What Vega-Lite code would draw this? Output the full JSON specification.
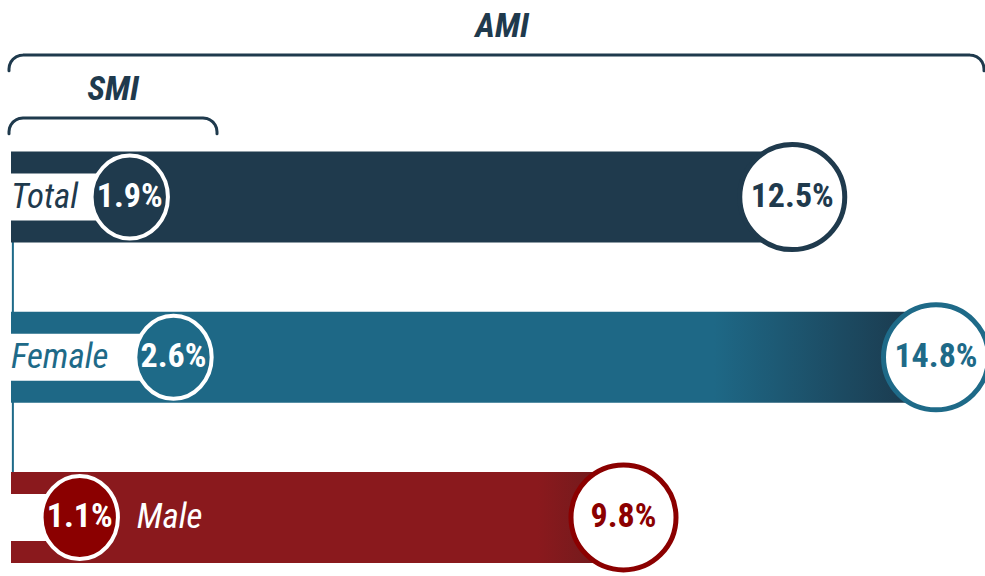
{
  "$schema": "https://vega.github.io/schema/vega-lite/v6.json",
  "width": 985,
  "height": 576,
  "padding": 0,
  "autosize": {"type": "none"},
  "background": "white",
  "config": {"view": {"stroke": null}, "axis": {"disable": true}, "legend": {"disable": true}},
  "datasets": {
    "rates": [
      {"group": "Total", "pos": 1, "AMI": 12.5, "SMI": 1.9},
      {"group": "Female", "pos": 2, "AMI": 14.8, "SMI": 2.6},
      {"group": "Male", "pos": 3, "AMI": 9.8, "SMI": 1.1}
    ],
    "brackets": [
      {"bracket": "AMI", "i": 0, "bx": -0.032, "by": 0.2117},
      {"bracket": "AMI", "i": 1, "bx": -0.032, "by": 0.19939},
      {"bracket": "AMI", "i": 2, "bx": -0.0243, "by": 0.17718},
      {"bracket": "AMI", "i": 3, "bx": -0.0019, "by": 0.15644},
      {"bracket": "AMI", "i": 4, "bx": 0.0336, "by": 0.13865},
      {"bracket": "AMI", "i": 5, "bx": 0.08, "by": 0.12503},
      {"bracket": "AMI", "i": 6, "bx": 0.1341, "by": 0.11644},
      {"bracket": "AMI", "i": 7, "bx": 0.192, "by": 0.1135},
      {"bracket": "AMI", "i": 8, "bx": 15.344, "by": 0.1135},
      {"bracket": "AMI", "i": 9, "bx": 15.4019, "by": 0.11644},
      {"bracket": "AMI", "i": 10, "bx": 15.456, "by": 0.12503},
      {"bracket": "AMI", "i": 11, "bx": 15.5024, "by": 0.13865},
      {"bracket": "AMI", "i": 12, "bx": 15.5379, "by": 0.15644},
      {"bracket": "AMI", "i": 13, "bx": 15.5603, "by": 0.17718},
      {"bracket": "AMI", "i": 14, "bx": 15.568, "by": 0.19939},
      {"bracket": "AMI", "i": 15, "bx": 15.568, "by": 0.2117},
      {"bracket": "SMI", "i": 0, "bx": -0.032, "by": 0.60429},
      {"bracket": "SMI", "i": 1, "bx": -0.032, "by": 0.59202},
      {"bracket": "SMI", "i": 2, "bx": -0.0243, "by": 0.56982},
      {"bracket": "SMI", "i": 3, "bx": -0.0019, "by": 0.54908},
      {"bracket": "SMI", "i": 4, "bx": 0.0336, "by": 0.53129},
      {"bracket": "SMI", "i": 5, "bx": 0.08, "by": 0.51767},
      {"bracket": "SMI", "i": 6, "bx": 0.1341, "by": 0.50908},
      {"bracket": "SMI", "i": 7, "bx": 0.192, "by": 0.50613},
      {"bracket": "SMI", "i": 8, "bx": 3.072, "by": 0.50613},
      {"bracket": "SMI", "i": 9, "bx": 3.1299, "by": 0.50908},
      {"bracket": "SMI", "i": 10, "bx": 3.184, "by": 0.51767},
      {"bracket": "SMI", "i": 11, "bx": 3.2304, "by": 0.53129},
      {"bracket": "SMI", "i": 12, "bx": 3.2659, "by": 0.54908},
      {"bracket": "SMI", "i": 13, "bx": 3.2883, "by": 0.56982},
      {"bracket": "SMI", "i": 14, "bx": 3.296, "by": 0.59202},
      {"bracket": "SMI", "i": 15, "bx": 3.296, "by": 0.60429}
    ],
    "headers": [
      {"label": "AMI", "hx": 7.856, "hy": -0.0644},
      {"label": "SMI", "hx": 1.632, "hy": 0.334}
    ]
  },
  "data": {"name": "rates"},
  "transform": [
    {"calculate": "format(datum.AMI, '.1f') + '%'", "as": "amiLabel"},
    {"calculate": "format(datum.SMI, '.1f') + '%'", "as": "smiLabel"}
  ],
  "layer": [
    {
      "mark": {"type": "rule", "color": "#1e6a88", "strokeWidth": 2},
      "encoding": {
        "x": {"datum": 0.03, "type": "quantitative", "scale": {"domain": [-0.176, 15.584], "nice": false, "zero": false}},
        "y": {"aggregate": "min", "field": "pos", "type": "quantitative", "scale": {"domain": [-0.1994, 3.3344], "reverse": true, "nice": false, "zero": false}},
        "y2": {"aggregate": "max", "field": "pos"}
      }
    },
    {
      "transform": [{"filter": "datum.group == 'Total'"}],
      "mark": {"type": "bar", "orient": "horizontal", "size": 91, "color": "#1f3a4d"},
      "encoding": {
        "x": {"field": "AMI", "type": "quantitative", "scale": {"domain": [-0.176, 15.584], "nice": false, "zero": false}},
        "x2": {"datum": 0},
        "y": {"field": "pos", "type": "quantitative", "scale": {"domain": [-0.1994, 3.3344], "reverse": true, "nice": false, "zero": false}}
      }
    },
    {
      "transform": [{"filter": "datum.group == 'Female'"}],
      "mark": {"type": "bar", "orient": "horizontal", "size": 91,
        "color": {"gradient": "linear", "x1": 0, "x2": 1, "y1": 0, "y2": 0,
          "stops": [{"offset": 0, "color": "#1e6886"}, {"offset": 0.76, "color": "#1e6886"}, {"offset": 0.97, "color": "#1b3b4f"}, {"offset": 1, "color": "#1b3b4f"}]}},
      "encoding": {
        "x": {"field": "AMI", "type": "quantitative", "scale": {"domain": [-0.176, 15.584], "nice": false, "zero": false}},
        "x2": {"datum": 0},
        "y": {"field": "pos", "type": "quantitative", "scale": {"domain": [-0.1994, 3.3344], "reverse": true, "nice": false, "zero": false}}
      }
    },
    {
      "transform": [{"filter": "datum.group == 'Male'"}],
      "mark": {"type": "bar", "orient": "horizontal", "size": 91,
        "color": {"gradient": "linear", "x1": 0, "x2": 1, "y1": 0, "y2": 0,
          "stops": [{"offset": 0, "color": "#8a191d"}, {"offset": 0.86, "color": "#8a191d"}, {"offset": 1, "color": "#681b1c"}]}},
      "encoding": {
        "x": {"field": "AMI", "type": "quantitative", "scale": {"domain": [-0.176, 15.584], "nice": false, "zero": false}},
        "x2": {"datum": 0},
        "y": {"field": "pos", "type": "quantitative", "scale": {"domain": [-0.1994, 3.3344], "reverse": true, "nice": false, "zero": false}}
      }
    },
    {
      "mark": {"type": "bar", "orient": "horizontal", "size": 47, "color": "white"},
      "encoding": {
        "x": {"field": "SMI", "type": "quantitative", "scale": {"domain": [-0.176, 15.584], "nice": false, "zero": false}},
        "x2": {"datum": 0},
        "y": {"field": "pos", "type": "quantitative", "scale": {"domain": [-0.1994, 3.3344], "reverse": true, "nice": false, "zero": false}}
      }
    },
    {
      "transform": [{"filter": "datum.group != 'Male'"}],
      "mark": {"type": "text", "align": "left", "baseline": "middle", "dx": 0, "fontSize": 35, "fontStyle": "italic", "font": "Roboto Condensed, Liberation Sans Narrow, Arial Narrow, DejaVu Sans Condensed, sans-serif"},
      "encoding": {
        "x": {"datum": 0, "type": "quantitative", "scale": {"domain": [-0.176, 15.584], "nice": false, "zero": false}},
        "y": {"field": "pos", "type": "quantitative", "scale": {"domain": [-0.1994, 3.3344], "reverse": true, "nice": false, "zero": false}},
        "text": {"field": "group"},
        "color": {"field": "group", "type": "nominal", "scale": {"domain": ["Total", "Female", "Male"], "range": ["#1f3a4d", "#1e6a88", "#8b0000"]}}
      }
    },
    {
      "mark": {"type": "point", "filled": true, "opacity": 1, "shape": "M -0.92 0 A 0.92 1 0 1 0 0.92 0 A 0.92 1 0 1 0 -0.92 0 Z", "size": 6889, "stroke": "white", "strokeWidth": 4, "strokeOpacity": 1},
      "encoding": {
        "x": {"field": "SMI", "type": "quantitative", "scale": {"domain": [-0.176, 15.584], "nice": false, "zero": false}},
        "y": {"field": "pos", "type": "quantitative", "scale": {"domain": [-0.1994, 3.3344], "reverse": true, "nice": false, "zero": false}},
        "color": {"field": "group", "type": "nominal", "scale": {"domain": ["Total", "Female", "Male"], "range": ["#1f3a4d", "#1e6a88", "#8b0000"]}}
      }
    },
    {
      "mark": {"type": "text", "align": "center", "baseline": "middle", "fontSize": 34, "fontWeight": "bold", "color": "white", "font": "Roboto Condensed, Liberation Sans Narrow, Arial Narrow, DejaVu Sans Condensed, sans-serif"},
      "encoding": {
        "x": {"field": "SMI", "type": "quantitative", "scale": {"domain": [-0.176, 15.584], "nice": false, "zero": false}},
        "y": {"field": "pos", "type": "quantitative", "scale": {"domain": [-0.1994, 3.3344], "reverse": true, "nice": false, "zero": false}},
        "text": {"field": "smiLabel"}
      }
    },
    {
      "transform": [{"filter": "datum.group == 'Male'"}],
      "mark": {"type": "text", "align": "left", "baseline": "middle", "dx": 57, "fontSize": 35, "fontStyle": "italic", "color": "white", "font": "Roboto Condensed, Liberation Sans Narrow, Arial Narrow, DejaVu Sans Condensed, sans-serif"},
      "encoding": {
        "x": {"field": "SMI", "type": "quantitative", "scale": {"domain": [-0.176, 15.584], "nice": false, "zero": false}},
        "y": {"field": "pos", "type": "quantitative", "scale": {"domain": [-0.1994, 3.3344], "reverse": true, "nice": false, "zero": false}},
        "text": {"field": "group"}
      }
    },
    {
      "mark": {"type": "point", "filled": true, "opacity": 1, "shape": "circle", "size": 11025, "fill": "white", "strokeWidth": 5, "strokeOpacity": 1},
      "encoding": {
        "x": {"field": "AMI", "type": "quantitative", "scale": {"domain": [-0.176, 15.584], "nice": false, "zero": false}},
        "y": {"field": "pos", "type": "quantitative", "scale": {"domain": [-0.1994, 3.3344], "reverse": true, "nice": false, "zero": false}},
        "stroke": {"field": "group", "type": "nominal", "scale": {"domain": ["Total", "Female", "Male"], "range": ["#1f3a4d", "#1e6a88", "#8b0000"]}}
      }
    },
    {
      "mark": {"type": "text", "align": "center", "baseline": "middle", "fontSize": 34, "fontWeight": "bold", "font": "Roboto Condensed, Liberation Sans Narrow, Arial Narrow, DejaVu Sans Condensed, sans-serif"},
      "encoding": {
        "x": {"field": "AMI", "type": "quantitative", "scale": {"domain": [-0.176, 15.584], "nice": false, "zero": false}},
        "y": {"field": "pos", "type": "quantitative", "scale": {"domain": [-0.1994, 3.3344], "reverse": true, "nice": false, "zero": false}},
        "text": {"field": "amiLabel"},
        "color": {"field": "group", "type": "nominal", "scale": {"domain": ["Total", "Female", "Male"], "range": ["#1f3a4d", "#1e6a88", "#8b0000"]}}
      }
    },
    {
      "data": {"name": "brackets"},
      "mark": {"type": "line", "interpolate": "linear", "color": "#1f3a4d", "strokeWidth": 3, "strokeCap": "round", "strokeJoin": "round"},
      "encoding": {
        "x": {"field": "bx", "type": "quantitative", "scale": {"domain": [-0.176, 15.584], "nice": false, "zero": false}},
        "y": {"field": "by", "type": "quantitative", "scale": {"domain": [-0.1994, 3.3344], "reverse": true, "nice": false, "zero": false}},
        "detail": {"field": "bracket"},
        "order": {"field": "i", "type": "quantitative"}
      }
    },
    {
      "data": {"name": "headers"},
      "mark": {"type": "text", "align": "center", "baseline": "middle", "fontSize": 34, "fontWeight": "bold", "fontStyle": "italic", "color": "#1f3a4d", "font": "Roboto Condensed, Liberation Sans Narrow, Arial Narrow, DejaVu Sans Condensed, sans-serif"},
      "encoding": {
        "x": {"field": "hx", "type": "quantitative", "scale": {"domain": [-0.176, 15.584], "nice": false, "zero": false}},
        "y": {"field": "hy", "type": "quantitative", "scale": {"domain": [-0.1994, 3.3344], "reverse": true, "nice": false, "zero": false}},
        "text": {"field": "label"}
      }
    }
  ]
}
